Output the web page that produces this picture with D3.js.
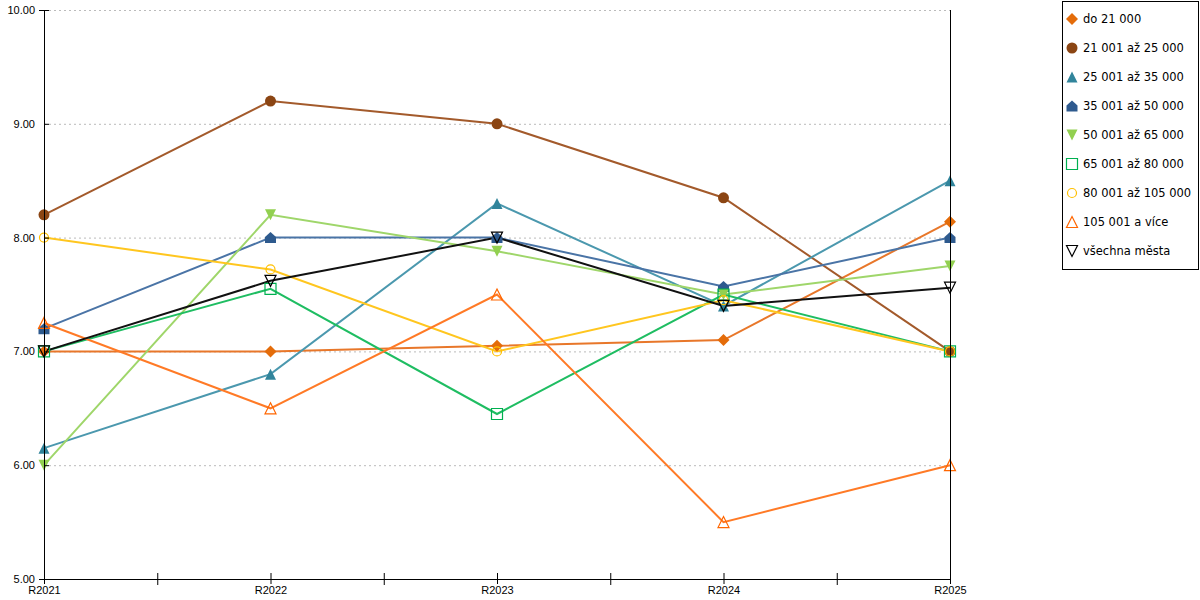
<!DOCTYPE html>
<html>
<head>
<meta charset="utf-8">
<script src="https://cdnjs.cloudflare.com/ajax/libs/d3/7.8.5/d3.min.js"></script>
<style>
  body { margin: 0; background: #fff; }
  svg { display: block; font-family: "DejaVu Sans", Verdana, sans-serif; }
  .axis text { fill: #000; }
</style>
</head>
<body>
<svg width="1200" height="600"></svg>
<script>
var categories = ['R2021', 'R2022', 'R2023', 'R2024', 'R2025'];
var seriesNames = ['do 21 000', '21 001 až 25 000', '25 001 až 35 000', '35 001 až 50 000',
  '50 001 až 65 000', '65 001 až 80 000', '80 001 až 105 000', '105 001 a více', 'všechna města'];

var do21 = [7.00, 7.00, 7.05, 7.10, 8.14];
var s21_25 = [8.20, 9.20, 9.00, 8.35, 7.00];
var s25_35 = [6.15, 6.80, 8.30, 7.40, 8.50];
var s35_50 = [7.20, 8.00, 8.00, 7.57, 8.00];
var s50_65 = [6.00, 8.20, 7.88, 7.50, 7.75];
var s65_80 = [7.00, 7.55, 6.45, 7.50, 7.00];
var s80_105 = [8.00, 7.72, 7.00, 7.45, 7.00];
var s105 = [7.25, 6.50, 7.50, 5.50, 6.00];
var all = [7.00, 7.62, 8.00, 7.40, 7.56];

var yTicks = [5, 6, 7, 8, 9, 10];

var values = [do21, s21_25, s25_35, s35_50, s50_65, s65_80, s80_105, s105, all];
var markerColors = ['#e46c0a', '#8b4513', '#31849b', '#2e5a8e', '#92d050', '#00b050', '#ffc000', '#ff6600', '#000000'];
var lineColors = ['#e8772a', '#a35a2b', '#4b98ae', '#4a74a6', '#9fd66a', '#1fbd62', '#ffc61f', '#ff7a26', '#111111'];
var shapes = ['diamond', 'circle', 'triangle', 'house', 'down', 'square', 'ocircle', 'otriangle', 'odown'];

var svg = d3.select('svg');
var pLeft = 44, pRight = 950, pTop = 10, pBottom = 579;

var x = d3.scalePoint().domain(categories).range([pLeft, pRight]);
var y = d3.scaleLinear().domain([5, 10]).range([pBottom, pTop]);

// grid
svg.append('g').selectAll('line')
  .data(yTicks.filter(function(d) { return d > 5; }))
  .enter()
  .append('line')
  .attr('x1', pLeft).attr('x2', pRight)
  .attr('y1', function(d) { return y(d) + 0.5; })
  .attr('y2', function(d) { return y(d) + 0.5; })
  .attr('stroke', '#bbb')
  .attr('stroke-dasharray', '2,3');

// marker shapes
function markerPath(shape, r) {
  switch (shape) {
    case 'diamond':
      return 'M0,' + (-r) + 'L' + r + ',0L0,' + r + 'L' + (-r) + ',0Z';
    case 'circle': case 'ocircle':
      return 'M' + r + ',0A' + r + ',' + r + ' 0 1,1 ' + (-r) + ',0A' + r + ',' + r + ' 0 1,1 ' + r + ',0Z';
    case 'triangle': case 'otriangle':
      return 'M0,' + (-r) + 'L' + r + ',' + r + 'L' + (-r) + ',' + r + 'Z';
    case 'down': case 'odown':
      return 'M' + (-r) + ',' + (-r) + 'L' + r + ',' + (-r) + 'L0,' + r + 'Z';
    case 'square':
      return 'M' + (-r) + ',' + (-r) + 'H' + r + 'V' + r + 'H' + (-r) + 'Z';
    case 'house':
      return 'M0,' + (-r) + 'L' + r + ',' + (-r * 0.1) + 'V' + r + 'H' + (-r) + 'V' + (-r * 0.1) + 'Z';
  }
}
function isHollow(shape) {
  return shape === 'square' || shape === 'ocircle' || shape === 'otriangle' || shape === 'odown';
}
function markerSize(shape) {
  if (shape === 'diamond') return 6;
  if (shape === 'ocircle') return 4.5;
  if (shape === 'circle') return 5.5;
  return 5.5;
}

var line = d3.line()
  .x(function(d, i) { return x(categories[i]); })
  .y(function(d) { return y(d); });

svg.append('g').selectAll('path')
  .data(values)
  .enter()
  .append('path')
  .attr('d', line)
  .attr('fill', 'none')
  .attr('stroke', function(d, i) { return lineColors[i]; })
  .attr('stroke-width', 2);

var mGroup = svg.append('g').selectAll('g')
  .data(values)
  .enter()
  .append('g');

mGroup.selectAll('path')
  .data(function(d, i) {
    return d.map(function(v, j) { return { v: v, cat: categories[j], s: i }; });
  })
  .enter()
  .append('path')
  .attr('transform', function(d) { return 'translate(' + x(d.cat) + ',' + y(d.v) + ')'; })
  .attr('d', function(d) { return markerPath(shapes[d.s], markerSize(shapes[d.s])); })
  .attr('fill', function(d) { return isHollow(shapes[d.s]) ? 'none' : markerColors[d.s]; })
  .attr('stroke', function(d) { return isHollow(shapes[d.s]) ? markerColors[d.s] : 'none'; })
  .attr('stroke-width', 1.2);

// axes (on top of the lines)
var yAxis = svg.append('g')
  .attr('class', 'axis')
  .attr('transform', 'translate(' + pLeft + ',0)')
  .call(d3.axisLeft(y).tickValues(yTicks).tickFormat(d3.format('.2f')).tickSize(5).tickPadding(4));
yAxis.selectAll('.tick line').attr('x2', 5);
yAxis.selectAll('text').style('font-size', '11px');

svg.append('line')
  .attr('x1', pRight + 0.5).attr('x2', pRight + 0.5)
  .attr('y1', pTop).attr('y2', pBottom)
  .attr('stroke', '#000');

var xAxis = svg.append('g')
  .attr('class', 'axis')
  .attr('transform', 'translate(0,' + pBottom + ')')
  .call(d3.axisBottom(x).tickSize(5).tickPadding(2));
xAxis.selectAll('.tick line').attr('y1', -6);
xAxis.selectAll('text').style('font-size', '11px');
xAxis.select('.domain').attr('d', 'M' + pLeft + ',0.5H' + pRight);

var mids = d3.pairs(categories).map(function(p) { return (x(p[0]) + x(p[1])) / 2 + 0.5; });
xAxis.selectAll('.mid')
  .data(mids)
  .enter()
  .append('line')
  .attr('class', 'mid')
  .attr('x1', function(d) { return d; })
  .attr('x2', function(d) { return d; })
  .attr('y1', -6).attr('y2', 6)
  .attr('stroke', '#000');

svg.selectAll('.domain, .tick line').attr('stroke', '#000');

// legend
var legend = svg.append('g').attr('transform', 'translate(1062,1)');
legend.append('rect')
  .attr('x', 0.5).attr('y', 0.5)
  .attr('width', 136).attr('height', 268)
  .attr('fill', '#fff')
  .attr('stroke', '#000');

var item = legend.selectAll('.item')
  .data(seriesNames)
  .enter()
  .append('g')
  .attr('class', 'item')
  .attr('transform', function(d, i) { return 'translate(0,' + (18 + i * 29) + ')'; });

item.append('path')
  .attr('transform', 'translate(10,0)')
  .attr('d', function(d, i) { return markerPath(shapes[i], markerSize(shapes[i])); })
  .attr('fill', function(d, i) { return isHollow(shapes[i]) ? 'none' : markerColors[i]; })
  .attr('stroke', function(d, i) { return isHollow(shapes[i]) ? markerColors[i] : 'none'; })
  .attr('stroke-width', 1.2);

item.append('text')
  .attr('x', 21)
  .attr('y', 4)
  .style('font-size', '11.5px')
  .text(function(d) { return d; });
</script>
</body>
</html>
